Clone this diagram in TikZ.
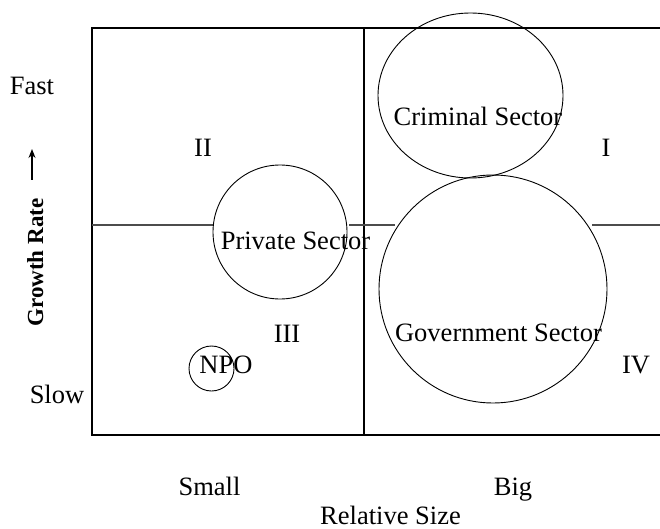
\documentclass[tikz,border=0pt]{standalone}
\usepackage{fontspec}
\setmainfont{Liberation Serif}
\usetikzlibrary{shapes.geometric,arrows.meta}

\tikzset{
  frameline/.style={line width=1.2pt, black},
  divline/.style={line width=1.3pt, black!70},
  bubble/.style={draw, line width=0.9pt, inner sep=0pt},
  lbl/.style={anchor=base, inner sep=0pt, font=\fontsize{26.5}{30}\selectfont},
  axislbl/.style={anchor=base, inner sep=0pt, font=\fontsize{23}{27}\selectfont\bfseries},
}

\begin{document}
\begin{tikzpicture}[x=1pt,y=-1pt]
  \useasboundingbox (0,0) rectangle (660,529);

  % quadrant frame
  \coordinate (tl) at (92,28);
  \coordinate (bl) at (92,435);
  \coordinate (tr) at (660,28);
  \coordinate (br) at (660,435);
  \coordinate (vt) at (364,28);
  \coordinate (vb) at (364,435);
  \draw[frameline] (tr) -- (tl) -- (bl) -- (br);
  \draw[frameline] (vt) -- (vb);

  % horizontal divider, interrupted by the bubbles
  \coordinate (h0) at (92,225);
  \coordinate (h1) at (213,225);
  \coordinate (h2) at (349,225);
  \coordinate (h3) at (395,225);
  \coordinate (h4) at (592,225);
  \coordinate (h5) at (660,225);
  \draw[divline] (h0) -- (h1);
  \draw[divline] (h2) -- (h3);
  \draw[divline] (h4) -- (h5);

  % sector bubbles
  \node[bubble, ellipse, minimum width=185, minimum height=165] (criminal) at (470.5,95.5) {};
  \node[bubble, circle, minimum size=228] (government) at (493,289) {};
  \node[bubble, circle, minimum size=134] (private) at (280,232) {};
  \node[bubble, circle, minimum size=45] (npo) at (211.5,368.5) {};

  % bubble labels
  \node[lbl] (criminal-t) at (478,126) {Criminal Sector};
  \node[lbl] (private-t) at (295.5,249) {Private Sector};
  \node[lbl] (government-t) at (498.5,341) {Government Sector};
  \node[lbl] (npo-t) at (226,373) {NPO};

  % quadrant numbers
  \node[lbl] (q1) at (606,157) {I};
  \node[lbl] (q2) at (203,157) {II};
  \node[lbl] (q3) at (287,342) {III};
  \node[lbl] (q4) at (636,373) {IV};

  % axis labels
  \node[lbl] (fast) at (32,95) {Fast};
  \node[lbl] (slow) at (57,403) {Slow};
  \node[lbl] (small) at (209.5,495) {Small};
  \node[lbl] (big) at (513,495) {Big};
  \node[lbl] (relsize) at (390.5,524) {Relative Size};
  \node[axislbl, rotate=90] (growth) at (43,262.5) {Growth Rate};

  \coordinate (gr-tail) at (32,180);
  \coordinate (gr-head) at (32,149);
  \draw[line width=1.3pt, -{Stealth[length=9pt,width=7pt]}] (gr-tail) -- (gr-head);
\end{tikzpicture}
\end{document}
